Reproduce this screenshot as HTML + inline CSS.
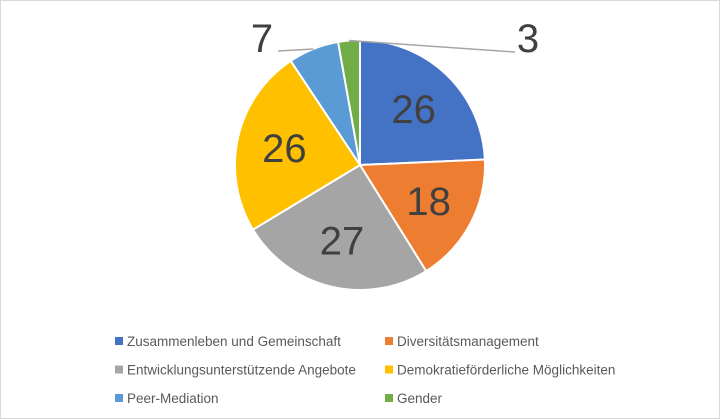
<!DOCTYPE html>
<html><head><meta charset="utf-8"><style>
html,body{margin:0;padding:0;background:#fff;}
svg{display:block;font-family:"Liberation Sans",sans-serif;}
</style></head><body>
<svg width="720" height="419" viewBox="0 0 720 419">
<rect x="0.5" y="0.5" width="719" height="418" fill="#fff" stroke="#d9d9d9"/>
<g id="slices"></g>
<g id="labels"></g>
<g id="legend"></g>
</svg>
<script>
const categories=["Zusammenleben und Gemeinschaft","Diversitätsmanagement","Entwicklungsunterstützende Angebote","Demokratieförderliche Möglichkeiten","Peer-Mediation","Gender"];
const values=[26,18,27,26,7,3];
const colors=["#4472c4","#ed7d31","#a5a5a5","#ffc000","#5b9bd5","#70ad47"];
const NS="http://www.w3.org/2000/svg";
const cx=360,cy=165,r=125;
const total=values.reduce((a,b)=>a+b,0);
const sl=document.getElementById('slices'),lb=document.getElementById('labels'),lg=document.getElementById('legend');
function pt(a,rr){return [cx+rr*Math.sin(a),cy-rr*Math.cos(a)];}
let acc=0;
values.forEach((v,i)=>{
  const a0=acc/total*2*Math.PI;acc+=v;const a1=acc/total*2*Math.PI;
  const p0=pt(a0,r),p1=pt(a1,r);
  const p=document.createElementNS(NS,'path');
  p.setAttribute('d',`M${cx},${cy}L${p0[0]},${p0[1]}A${r},${r} 0 ${a1-a0>Math.PI?1:0} 1 ${p1[0]},${p1[1]}Z`);
  p.setAttribute('fill',colors[i]);p.setAttribute('stroke','#fff');p.setAttribute('stroke-width','2');
  
  
  sl.appendChild(p);
  const am=(a0+a1)/2;
  let lx,ly;
  if(v/total>0.1){[lx,ly]=pt(am,r*0.62);ly+=14;}
  else{
    const edge=pt(am,r);
    const side=Math.sin(am)<0?-1:1;
    // outside labels
    if(i===values.length-1){lx=528;ly=52;}else{lx=262;ly=52;}
    const ln=document.createElementNS(NS,'line');
    const ex=i===values.length-1?515:278, ey=i===values.length-1?52:51;
    ln.setAttribute('x1',edge[0]);ln.setAttribute('y1',edge[1]);ln.setAttribute('x2',ex);ln.setAttribute('y2',ey);
    ln.setAttribute('stroke','#a6a6a6');ln.setAttribute('stroke-width','1.5');
    
    
    lb.appendChild(ln);
  }
  const t=document.createElementNS(NS,'text');
  t.setAttribute('x',lx);t.setAttribute('y',ly);t.setAttribute('text-anchor','middle');
  t.setAttribute('font-size','40');t.setAttribute('fill','#404040');
  t.textContent=v;
  
  
  lb.appendChild(t);
});
categories.forEach((c,i)=>{
  const x=i%2===0?115:385, y=341+Math.floor(i/2)*28.5;
  const g=document.createElementNS(NS,'g');
  
  
  const s=document.createElementNS(NS,'rect');
  s.setAttribute('x',x);s.setAttribute('y',y-4);s.setAttribute('width',8);s.setAttribute('height',8);s.setAttribute('fill',colors[i]);
  g.appendChild(s);
  const t=document.createElementNS(NS,'text');
  t.setAttribute('x',x+12);t.setAttribute('y',y+5);t.setAttribute('font-size','13.5');t.setAttribute('fill','#595959');
  t.textContent=c;g.appendChild(t);
  lg.appendChild(g);
});
</script>
</body></html>
